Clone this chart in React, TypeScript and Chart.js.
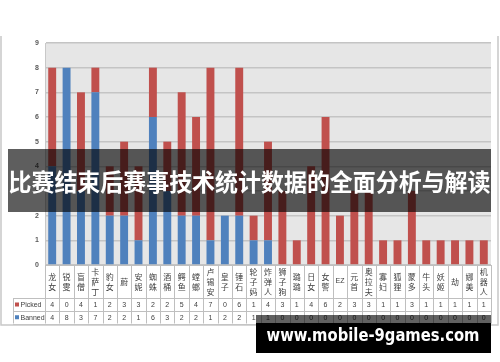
import React, { useEffect, useRef } from "react";
import { Chart, registerables } from "chart.js";
Chart.register(...registerables);

const categories = [
  "龙女", "锐雯", "盲僧", "卡萨丁", "豹女", "蔚", "安妮", "蜘蛛", "酒桶", "鳄鱼",
  "螳螂", "卢锡安", "皇子", "锤石", "轮子妈", "炸弹人", "狮子狗", "璐璐", "日女", "女警",
  "EZ", "元首", "奥拉夫", "寡妇", "狐狸", "蒙多", "牛头", "妖姬", "劫", "娜美", "机器人",
];
const picked = [4, 0, 4, 1, 2, 3, 3, 2, 2, 5, 4, 7, 0, 6, 1, 4, 3, 1, 4, 6, 2, 3, 3, 1, 1, 3, 1, 1, 1, 1, 1];
const banned = [4, 8, 3, 7, 2, 2, 1, 6, 3, 2, 2, 1, 2, 2, 1, 1, 0, 0, 0, 0, 0, 0, 0, 0, 0, 0, 0, 0, 0, 0, 0];
const seriesNames = ["Picked", "Banned"];
const title = "比赛结束后赛事技术统计数据的全面分析与解读";
const watermark = "www.mobile-9games.com";

const RED = "#c0504d";
const BLUE = "#4f81bd";

export default function App() {
  const ref = useRef<HTMLCanvasElement>(null);
  useEffect(() => {
    const canvas = ref.current!;
    const plugin = {
      id: "excelTable",
      beforeDraw(chart: any) {
        const { ctx, chartArea: a } = chart;
        ctx.save();
        ctx.fillStyle = "#ffffff";
        ctx.fillRect(0, 0, chart.width, chart.height);
        ctx.fillStyle = "#e6e6e6";
        ctx.fillRect(a.left, a.top, a.right - a.left, a.bottom - a.top);
        ctx.restore();
      },
      afterDraw(chart: any) {
        const { ctx, chartArea: a } = chart;
        const xs = chart.scales.x;
        const n = categories.length;
        const cw = (a.right - a.left) / n;
        const top = a.bottom;
        const r1 = top + 33;
        const r2 = r1 + 13;
        const r3 = r2 + 12.5;
        const legL = 13;
        const px = (v: number) => Math.round(v) + 0.5;
        ctx.save();
        // table grid
        ctx.strokeStyle = "#bfbfbf";
        ctx.lineWidth = 1;
        ctx.beginPath();
        ctx.moveTo(a.left, px(top));
        ctx.lineTo(a.right, px(top));
        [r1, r2, r3].forEach((y) => {
          ctx.moveTo(legL, px(y));
          ctx.lineTo(a.right, px(y));
        });
        for (let i = 0; i <= n; i++) {
          const x = px(a.left + i * cw);
          ctx.moveTo(x, top);
          ctx.lineTo(x, r3);
        }
        ctx.moveTo(px(legL), r1);
        ctx.lineTo(px(legL), r3);
        ctx.stroke();

        // category labels
        ctx.fillStyle = "#404040";
        ctx.textAlign = "center";
        ctx.textBaseline = "middle";
        ctx.font = '8px "Noto Sans CJK SC"';
        categories.forEach((c, i) => {
          const cx = xs.getPixelForValue(i);
          const mid = (top + r1) / 2;
          if (/^[\x00-\x7f]+$/.test(c)) {
            ctx.font = '7px "Liberation Sans"';
            ctx.fillText(c, cx, mid);
            ctx.font = '8px "Noto Sans CJK SC"';
          } else {
            const chars = Array.from(c);
            const lh = 10;
            const start = mid - ((chars.length - 1) * lh) / 2;
            chars.forEach((ch, k) => ctx.fillText(ch, cx, start + k * lh));
          }
        });
        // values
        ctx.font = '7px "Liberation Sans"';
        [picked, banned].forEach((arr, row) => {
          const y = row === 0 ? (r1 + r2) / 2 : (r2 + r3) / 2;
          arr.forEach((v, i) => ctx.fillText(String(v), xs.getPixelForValue(i), y + 0.5));
        });
        // legend keys
        ctx.textAlign = "left";
        [RED, BLUE].forEach((col, row) => {
          const y = row === 0 ? (r1 + r2) / 2 : (r2 + r3) / 2;
          ctx.fillStyle = col;
          ctx.fillRect(15, y - 2, 4, 4);
          ctx.fillStyle = "#404040";
          ctx.fillText(seriesNames[row], 20.5, y + 0.5);
        });

        // outer frame
        ctx.strokeStyle = "#c8c8c8";
        ctx.lineWidth = 1.5;
        ctx.beginPath();
        ctx.moveTo(1, 36);
        ctx.lineTo(1, 325);
        ctx.lineTo(498, 325);
        ctx.lineTo(498, 36);
        ctx.stroke();

        // title band
        ctx.fillStyle = "rgba(0,0,0,0.63)";
        ctx.fillRect(8, 149, 483, 63);
        ctx.fillStyle = "#ffffff";
        ctx.font = 'bold 24px "Noto Sans CJK SC"';
        ctx.textAlign = "center";
        ctx.textBaseline = "middle";
        const tw = ctx.measureText(title).width;
        const sx = Math.min(1, 482 / tw);
        ctx.save();
        ctx.translate(249.5, 182);
        ctx.scale(sx, 1);
        ctx.fillText(title, 0, 0);
        ctx.restore();

        // watermark
        ctx.fillStyle = "rgba(0,0,0,0.62)";
        ctx.fillRect(256, 315, 235, 8);
        ctx.fillStyle = "#000000";
        ctx.fillRect(256, 323, 235, 30);
        ctx.fillStyle = "#ffffff";
        ctx.font = 'bold 17px "DejaVu Sans"';
        const ww = ctx.measureText(watermark).width;
        ctx.save();
        ctx.translate(373, 337);
        ctx.scale(213 / ww, 1);
        ctx.fillText(watermark, 0, 0);
        ctx.restore();
        ctx.restore();
      },
    };

    const chart = new Chart(canvas, {
      type: "bar",
      data: {
        labels: categories,
        datasets: [
          { label: seriesNames[1], data: banned, backgroundColor: BLUE, stack: "s" },
          { label: seriesNames[0], data: picked, backgroundColor: RED, stack: "s" },
        ],
      },
      options: {
        responsive: false,
        animation: false,
        devicePixelRatio: 1,
        layout: { padding: { left: 0, top: 43, right: 9, bottom: 97 } },
        datasets: { bar: { barPercentage: 0.55, categoryPercentage: 1 } },
        plugins: { legend: { display: false }, tooltip: { enabled: false } },
        scales: {
          x: { display: false, stacked: true },
          y: {
            stacked: true,
            min: 0,
            max: 9,
            afterFit: (s: any) => {
              s.width = 45;
            },
            ticks: {
              stepSize: 1,
              padding: 6,
              color: "#595959",
              font: { size: 7, weight: "bold", family: "Liberation Sans" },
            },
            grid: { color: "#c4c4c4", lineWidth: 1.5, drawTicks: false },
            border: { display: true, color: "#c8c8c8", width: 1 },
          },
        },
      },
      plugins: [plugin],
    } as any);
    return () => chart.destroy();
  }, []);
  return (
    <div style={{ position: "absolute", left: 0, top: 0, width: 500, height: 362, background: "#fff" }}>
      <canvas ref={ref} width={500} height={362} style={{ display: "block", width: 500, height: 362 }} />
    </div>
  );
}
